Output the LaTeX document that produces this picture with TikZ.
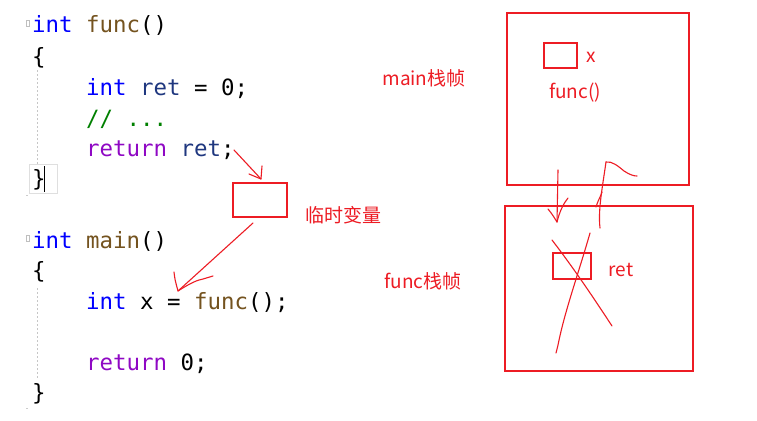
\documentclass[tikz,border=0pt]{standalone}
\usepackage{fontspec}
\setmonofont{DejaVu Sans Mono}
\newfontfamily\cjk{Noto Sans CJK SC}
\definecolor{kw}{RGB}{0,0,255}
\definecolor{fn}{RGB}{116,83,31}
\definecolor{var}{RGB}{31,55,127}
\definecolor{ctl}{RGB}{143,8,196}
\definecolor{cmt}{RGB}{0,128,0}
\definecolor{pen}{RGB}{237,28,36}
\begin{document}
\begin{tikzpicture}[x=1pt,y=-1pt,
  code/.style={anchor=base west,inner sep=0pt,font=\ttfamily\fontsize{22.4}{26}\selectfont},
  note/.style={inner sep=0pt,text=pen,font=\cjk\fontsize{19}{22}\selectfont},
  frame/.style={draw=pen,line width=2pt},
  cell/.style={draw=pen,line width=1.8pt},
  hand/.style={draw=pen,line width=1.1pt,line cap=round,line join=round},
  guide/.style={draw=gray!45,line width=0.6pt,dash pattern=on 2pt off 2pt}]
\useasboundingbox (0,0) rectangle (757,420);
\fill[white] (0,0) rectangle (757,420);
% editor marks
\draw[gray!50,line width=0.6pt] (26,20) rectangle (29,26);
\draw[gray!50,line width=0.6pt] (26,235) rectangle (29,241);
\draw[guide] (37,70) -- (37,165);
\draw[guide] (37,288) -- (37,378);
\draw[gray!25,line width=0.8pt] (29,164) rectangle (57,193);
\draw[black,line width=0.8pt] (44,166) -- (44,192);
\fill[gray!40] (26,195) rectangle (28,196);
\fill[gray!40] (26,408) rectangle (28,409);
% code
\node[code] (l0) at (32,33) {\textcolor{kw}{int} \textcolor{fn}{func}()};
\node[code] (l1) at (32,64) {\{};
\node[code] (l2) at (86,95) {\textcolor{kw}{int} \textcolor{var}{ret} = 0;};
\node[code] (l3) at (86,126) {\textcolor{cmt}{// ...}};
\node[code] (l4) at (86,156) {\textcolor{ctl}{return} \textcolor{var}{ret};};
\node[code] (l5) at (32,186) {\}};
\node[code] (l7) at (32,248) {\textcolor{kw}{int} \textcolor{fn}{main}()};
\node[code] (l8) at (32,278) {\{};
\node[code] (l9) at (86,309) {\textcolor{kw}{int} x = \textcolor{fn}{func}();};
\node[code] (l11) at (86,370) {\textcolor{ctl}{return} 0;};
\node[code] (l12) at (32,400) {\}};
% temporary variable
\node[cell,minimum width=54pt,minimum height=34pt,inner sep=0pt] (tmp) at (260,200) {};
\node[note,anchor=west] (tmplbl) at (305,215) {临时变量};
\coordinate (r0) at (234,150);
\coordinate (r1) at (261,179);
\draw[hand] (r0) -- (r1);
\draw[hand] (249,174) -- (r1) -- (262,166);
\coordinate (t0) at (253,223);
\coordinate (t1) at (178,291);
\draw[hand] (t0) -- (t1);
\draw[hand] (174,272) .. controls (175,280) .. (t1) .. controls (192,282) and (198,280) .. (203,279) -- (213,276);
% stack frame labels
\node[note] (mainlbl) at (424,78) {main栈帧};
\node[note] (funclbl) at (423,281) {func栈帧};
% main frame
\node[frame,minimum width=182pt,minimum height=172pt,inner sep=0pt] (mainf) at (598,99) {};
\node[cell,minimum width=33pt,minimum height=25pt,inner sep=0pt] (xbox) at (560.5,55.5) {};
\node[note] (xlbl) at (591,57) {x};
\node[note] (calllbl) at (575,93) {func()};
% func frame
\node[frame,minimum width=188pt,minimum height=165pt,inner sep=0pt] (funcf) at (599,288.5) {};
\node[cell,minimum width=38pt,minimum height=26pt,inner sep=0pt] (retbox) at (572,266) {};
\node[note] (retlbl) at (621,270) {ret};
% cross over ret
\draw[hand] (552,240) .. controls (575,270) and (595,300) .. (612,326);
\draw[hand] (590,233) .. controls (578,275) and (565,310) .. (558,345) -- (556,353);
% call arrow (down)
\coordinate (d0) at (558,170);
\coordinate (d1) at (557,222);
\draw[hand] (d0) -- (d1);
\draw[hand] (548,209) .. controls (552,214) .. (d1) .. controls (560,210) and (564,203) .. (568,198);
% return stroke (up)
\coordinate (u0) at (600,228);
\coordinate (u1) at (606,162);
\draw[hand] (u0) .. controls (598,210) and (602,190) .. (u1);
\draw[hand] (596,207) .. controls (598,200) and (601,196) .. (602,192);
\draw[hand] (u1) .. controls (612,161) and (618,166) .. (624,171) .. controls (630,175) and (634,176) .. (637,176);
\end{tikzpicture}
\end{document}
